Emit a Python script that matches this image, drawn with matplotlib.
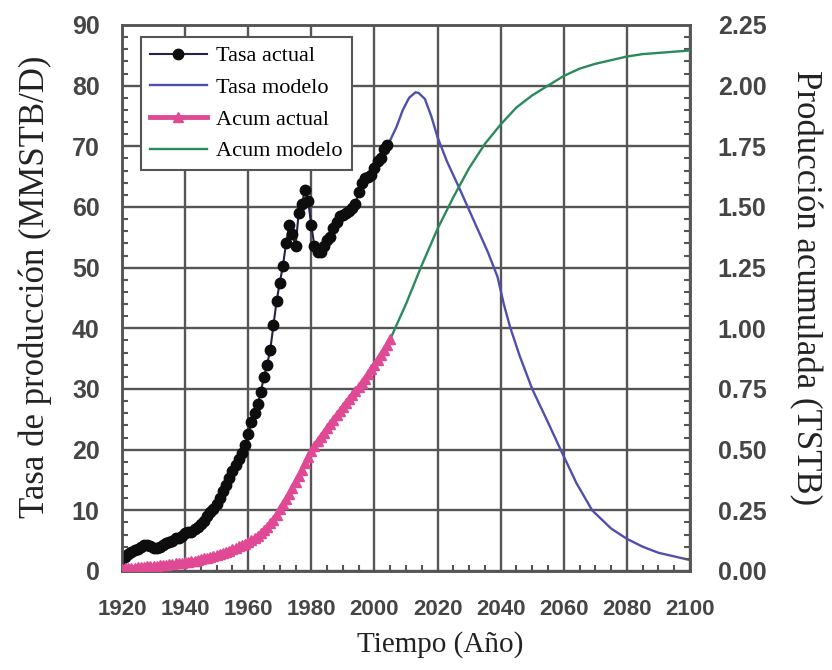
import matplotlib
matplotlib.use("Agg")
import matplotlib.pyplot as plt
from matplotlib.ticker import MultipleLocator, FormatStrFormatter

# ---------------- data ----------------
years_actual = list(range(1920, 2005))
rate_actual = [
    2.0, 2.3, 2.8, 3.2, 3.5, 3.6, 3.9, 4.2, 4.3, 4.1,
    3.8, 3.8, 4.0, 4.3, 4.6, 4.8, 5.0, 5.4, 5.5, 5.8,
    6.2, 6.4, 6.5, 6.9, 7.3, 7.7, 8.3, 9.0, 9.8, 10.2,
    11.0, 12.0, 13.2, 14.2, 15.3, 16.5, 17.5, 18.5, 19.4, 20.8,
    22.5, 24.5, 26.0, 27.5, 29.5, 32.0, 34.0, 36.5, 40.5, 44.5,
    47.5, 50.3, 54.0, 57.0, 55.5, 53.5, 59.0, 60.5, 62.8, 61.0,
    57.0, 53.5, 52.5, 52.5, 53.5, 54.5, 55.0, 56.5, 57.5, 58.5,
    58.7, 59.0, 59.3, 59.8, 60.5, 62.5, 64.0, 64.8, 65.0, 65.3,
    66.5, 67.6, 68.0, 69.5, 70.3,
]

years_model = [2004, 2005, 2007, 2009, 2011, 2013, 2014, 2016, 2018, 2020, 2023,
               2027, 2030, 2033, 2036, 2039, 2041, 2043, 2046, 2050, 2055,
               2059, 2064, 2069, 2075, 2080, 2085, 2090, 2095, 2100]
rate_model = [70.3, 71.0, 73.2, 76.0, 78.0, 78.9, 78.8, 77.8, 75.0, 71.5, 67.5,
              63.0, 59.5, 56.0, 52.5, 48.5, 44.0, 40.2, 35.5, 30.0, 24.5,
              20.0, 14.5, 10.0, 7.0, 5.3, 4.0, 3.0, 2.4, 1.8]

years_cum = list(range(1920, 2006))
cum_actual = [
    0.010, 0.011, 0.012, 0.013, 0.014, 0.015, 0.016, 0.017, 0.019, 0.020,
    0.021, 0.022, 0.023, 0.025, 0.026, 0.028, 0.029, 0.031, 0.033, 0.034,
    0.036, 0.038, 0.041, 0.043, 0.046, 0.049, 0.052, 0.055, 0.058, 0.062,
    0.066, 0.070, 0.074, 0.079, 0.084, 0.089, 0.095, 0.101, 0.107, 0.112,
    0.118, 0.126, 0.135, 0.145, 0.156, 0.168, 0.181, 0.196, 0.212, 0.232,
    0.255, 0.275, 0.296, 0.318, 0.343, 0.368, 0.392, 0.417, 0.443, 0.470,
    0.495, 0.515, 0.534, 0.552, 0.570, 0.588, 0.606, 0.624, 0.641, 0.658,
    0.675, 0.692, 0.708, 0.724, 0.740, 0.757, 0.775, 0.793, 0.812, 0.831,
    0.850, 0.870, 0.890, 0.910, 0.932, 0.955,
]

years_cum_model = [2005, 2010, 2015, 2020, 2025, 2030, 2035, 2040, 2045, 2050,
                   2055, 2060, 2065, 2070, 2075, 2080, 2085, 2090, 2095, 2100]
cum_model = [0.955, 1.10, 1.26, 1.41, 1.54, 1.66, 1.76, 1.84, 1.91, 1.96,
             2.00, 2.04, 2.07, 2.09, 2.105, 2.12, 2.13, 2.135, 2.14, 2.145]

labels = ["Tasa actual", "Tasa modelo", "Acum actual", "Acum modelo"]
x_ticks = list(range(1920, 2101, 20))

# ---------------- style ----------------
C_BLACK = "#0d0d0d"
C_LINE = "#23234a"
C_BLUE = "#4f4fae"
C_PINK = "#e04a94"
C_GREEN = "#2a8a5c"
C_GRID = "#555555"
C_TICK = "#454545"

fig = plt.figure(figsize=(8.32, 6.70), dpi=100)
ax = fig.add_axes([0.1466, 0.1478, 0.6827, 0.8149])
ax2 = ax.twinx()

l1, = ax.plot(years_actual, rate_actual, color=C_LINE, lw=1.5, marker="o",
              ms=7.5, mfc=C_BLACK, mec=C_BLACK, zorder=4)
l2, = ax.plot(years_model, rate_model, color=C_BLUE, lw=1.7, zorder=3)
l3, = ax2.plot(years_cum, cum_actual, color=C_PINK, lw=3.5, marker="^",
               ms=6.5, zorder=4)
l4, = ax2.plot(years_cum_model, cum_model, color=C_GREEN, lw=1.7, zorder=3)

ax.set_xlim(1920, 2100)
ax.set_ylim(0, 90)
ax2.set_ylim(0, 2.25)

ax.set_xticks(x_ticks)
ax.xaxis.set_minor_locator(MultipleLocator(5))
ax.yaxis.set_major_locator(MultipleLocator(10))
ax.yaxis.set_minor_locator(MultipleLocator(2))
ax2.yaxis.set_major_locator(MultipleLocator(0.25))
ax2.yaxis.set_minor_locator(MultipleLocator(0.05))
ax2.yaxis.set_major_formatter(FormatStrFormatter("%.2f"))

ax.grid(True, which="major", color=C_GRID, lw=1.7)
ax.set_axisbelow(True)

for a in (ax, ax2):
    for s in a.spines.values():
        s.set_color(C_GRID)
        s.set_linewidth(1.8)
ax.tick_params(axis="both", which="major", direction="in", length=0,
               colors=C_TICK)
ax.tick_params(axis="y", which="major", pad=16)
ax.tick_params(axis="x", which="major", pad=20)
ax.tick_params(axis="both", which="minor", direction="in", length=4, width=1.5,
               color=C_GRID)
ax2.tick_params(axis="y", which="major", direction="in", length=0, pad=20,
                colors=C_TICK)
ax2.tick_params(axis="y", which="minor", direction="in", length=4, width=1.5,
                color=C_GRID)

for lab in ax.get_xticklabels():
    lab.set_fontproperties(dict(family="Liberation Sans", weight="bold", size=16))
    lab.set_color(C_TICK)
for lab in ax.get_yticklabels() + ax2.get_yticklabels():
    lab.set_fontproperties(dict(family="Liberation Sans", weight="bold", size=18))
    lab.set_color(C_TICK)

ax.set_xlabel("Tiempo (Año)", family="Liberation Serif", fontsize=21,
              color="#222222", labelpad=8)
ax.xaxis.label.set_x(0.56)
ax.set_ylabel("Tasa de producción (MMSTB/D)", family="Liberation Serif",
              fontsize=25, color="#222222", labelpad=14)
ax.yaxis.label.set_y(0.52)
ax2.set_ylabel("Producción acumulada (TSTB)", family="Liberation Serif",
               fontsize=25, color="#222222", rotation=270, labelpad=40)
ax2.yaxis.label.set_y(0.52)

leg = ax2.legend([l1, l2, l3, l4], labels, loc="upper left",
                 bbox_to_anchor=(0.033, 0.978), borderaxespad=0,
                 fancybox=False, framealpha=1,
                 edgecolor=C_GRID, numpoints=1, handlelength=2.6,
                 handletextpad=0.4, labelspacing=0.5, borderpad=0.4,
                 prop=dict(family="Liberation Serif", size=16))
leg.get_frame().set_linewidth(1.5)
leg.set_zorder(10)

fig.savefig("out.png", dpi=100)
